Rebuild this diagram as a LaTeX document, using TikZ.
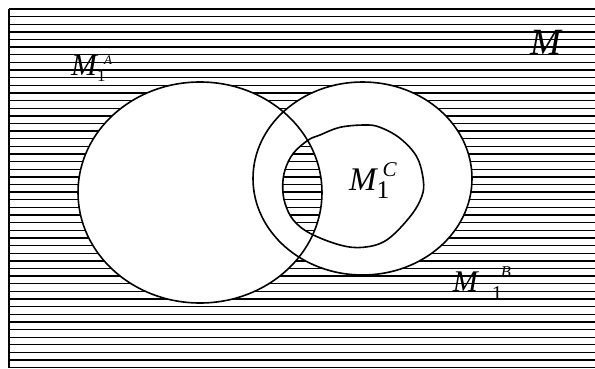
\documentclass[tikz,border=0pt]{standalone}
\usepackage{fontspec}
\setmainfont{Liberation Serif}
\begin{document}
\begin{tikzpicture}[x=1pt,y=-1pt,
  hatch/.style={line width=1.35pt},
  outline/.style={line width=1.6pt}]
\useasboundingbox (0,0) rectangle (595,369);
\def\hatchlines{\foreach \i in {0,...,47}{\draw[hatch] (9,{9+\i*7.632}) -- (600,{9+\i*7.632});}}
\def\Apath{(200,192.5) ellipse [x radius=122,y radius=110.5]}
\def\Bpath{(362.5,178.5) ellipse [x radius=109.5,y radius=96.5]}
\def\Cpath{plot[smooth cycle,tension=0.6] coordinates {(310,233.3) (340,245) (363.3,247.3) (386.7,240) (410,216.7) (421.7,196.7) (423.3,180) (416.7,156.7) (400,138.3) (380,127.3) (365,125) (340,127.3) (320,135) (308.3,140) (293.3,153.3) (285,170) (282.7,186.7) (285,203.3) (293.3,220)}}
% background hatching and frame
\hatchlines
\draw[hatch] (9,9) -- (9,367.7);
% blank the two ellipses
\fill[white] \Apath;
\fill[white] \Bpath;
% re-hatch A intersect C
\begin{scope}
  \clip \Apath;
  \clip \Cpath;
  \hatchlines
\end{scope}
% outlines
\draw[outline] \Apath;
\draw[outline] \Bpath;
\draw[outline] \Cpath;
% labels
\node[anchor=base west,inner sep=0] (lA) at (71,75.7) {{\fontsize{31}{31}\selectfont\itshape M}\raisebox{-6pt}{\fontsize{17}{17}\selectfont\rlap{1}}\hspace{7.2pt}\raisebox{11.4pt}{\fontsize{13}{13}\selectfont\itshape A}};
\node[anchor=base west,inner sep=0] (lB) at (452.7,291.7) {{\fontsize{30}{30}\selectfont\itshape M}\hspace{14pt}\raisebox{-8.3pt}{\fontsize{21}{21}\selectfont\rlap{1}}\hspace{9pt}\raisebox{14pt}{\fontsize{16.5}{16.5}\selectfont\itshape B}};
\node[anchor=base west,inner sep=0] (lC) at (349,190) {{\fontsize{33}{33}\selectfont\itshape M}\raisebox{-8.3pt}{\fontsize{25.5}{25.5}\selectfont\rlap{1}}\hspace{6pt}\raisebox{13.3pt}{\fontsize{21}{21}\selectfont\itshape C}};
\node[anchor=base west,inner sep=0] (lM) at (530,55) {\fontsize{37}{37}\selectfont\itshape M};
\end{tikzpicture}
\end{document}
